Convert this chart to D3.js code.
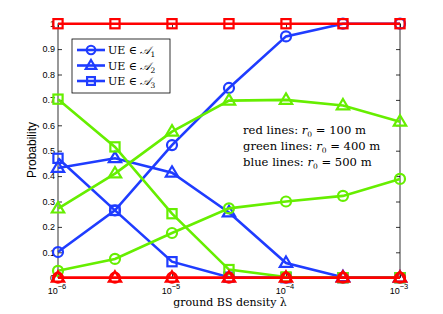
<!DOCTYPE html>
<html>
<head>
<meta charset="utf-8">
<script src="https://cdn.jsdelivr.net/npm/d3@7"></script>
<style>
  body { margin: 0; background: #fff; }
  svg { display: block; }
</style>
</head>
<body>
<div id="chart"></div>
<script>
// donnees
const density = [1e-6, 3.16e-6, 1e-5, 3.16e-5, 1e-4, 3.16e-4, 1e-3];
const yTicks = [0, 0.1, 0.2, 0.3, 0.4, 0.5, 0.6, 0.7, 0.8, 0.9, 1];
const xTicks = [1e-6, 1e-5, 1e-4, 1e-3];

const red_A1 = [0, 0, 0, 0, 0, 0, 0];
const red_A2 = [0, 0, 0, 0, 0, 0, 0];
const red_A3 = [1, 1, 1, 1, 1, 1, 1];
const green_A1 = [0.027, 0.074, 0.176, 0.273, 0.300, 0.322, 0.389];
const green_A2 = [0.272, 0.410, 0.575, 0.697, 0.700, 0.678, 0.614];
const green_A3 = [0.703, 0.515, 0.252, 0.032, 0.003, 0, 0];
const blue_A1 = [0.101, 0.265, 0.522, 0.747, 0.950, 1.0, 1.0];
const blue_A2 = [0.432, 0.470, 0.413, 0.257, 0.058, 0.002, 0];
const blue_A3 = [0.470, 0.265, 0.063, 0.002, 0, 0, 0];

const legendLabels = ["1", "2", "3"];
const notes = [["red lines: ", "100"], ["green lines: ", "400"], ["blue lines: ", "500"]];

const colors = {blue: "#1f3cff", green: "#66ee00", red: "#ff0000"};

const W = 443, H = 314;
const margin = {top: 23.7, right: 43, bottom: 36.3, left: 58};
const width = W - margin.left - margin.right,
      height = H - margin.top - margin.bottom;

const svg = d3.select("#chart").append("svg")
    .attr("width", W).attr("height", H);
const g = svg.append("g")
    .attr("transform", `translate(${margin.left},${margin.top})`);

const x = d3.scaleLog().domain([1e-6, 1e-3]).range([0, width]);
const y = d3.scaleLinear().domain([0, 1]).range([height, 0]);

// cadre et graduations (vers l'interieur, facon matlab)
const tickFont = "'Liberation Sans', Arial, sans-serif";
g.append("rect").attr("width", width).attr("height", height)
    .attr("fill", "none").attr("stroke", "#000").attr("stroke-width", 0.8);

const yLeft = g.append("g").call(d3.axisLeft(y).tickValues(yTicks).tickSizeInner(-4).tickSizeOuter(0).tickPadding(3)
    .tickFormat(d => d === 0 || d === 1 ? d3.format("d")(d) : d3.format(".1f")(d)));
const yRight = g.append("g").attr("transform", `translate(${width},0)`)
    .call(d3.axisRight(y).tickValues(yTicks).tickSizeInner(-4).tickSizeOuter(0).tickFormat(""));
const xBottom = g.append("g").attr("transform", `translate(0,${height})`)
    .call(d3.axisBottom(x).tickValues(xTicks).tickSizeInner(-4).tickSizeOuter(0).tickFormat(""));
const xTop = g.append("g")
    .call(d3.axisTop(x).tickValues(xTicks).tickSizeInner(-4).tickSizeOuter(0).tickFormat(""));
[yLeft, yRight, xBottom, xTop].forEach(a => {
  a.select(".domain").remove();
  a.selectAll("line").attr("stroke", "#000").attr("stroke-width", 0.8);
});
yLeft.selectAll("text").style("font-family", tickFont).style("font-size", "9px").attr("fill", "#000");

// etiquettes 10^n
const xl = g.append("g").attr("transform", `translate(0,${height})`);
xTicks.forEach(t => {
  const txt = xl.append("text")
      .attr("x", x(t) - 1).attr("y", 16)
      .attr("text-anchor", "middle")
      .style("font-family", tickFont).style("font-size", "9px");
  txt.append("tspan").text("10");
  txt.append("tspan").attr("dy", -5).style("font-size", "7.5px").text("\u2212" + (-Math.log10(t)));
});

// courbes
const series = [
  {c: "blue", v: blue_A1, m: "circle"},
  {c: "blue", v: blue_A2, m: "triangle"},
  {c: "blue", v: blue_A3, m: "square"},
  {c: "green", v: green_A1, m: "circle"},
  {c: "green", v: green_A2, m: "triangle"},
  {c: "green", v: green_A3, m: "square"},
  {c: "red", v: red_A1, m: "circle"},
  {c: "red", v: red_A2, m: "triangle"},
  {c: "red", v: red_A3, m: "square"}
];

const line = d3.line().x((d, i) => x(density[i])).y(d => y(d));

function marker(sel, type, color, px, py, k = 1) {
  if (type === "circle") {
    sel.append("circle").attr("cx", px).attr("cy", py).attr("r", 5 * k)
      .attr("fill", "none").attr("stroke", color).attr("stroke-width", 2.2);
  } else if (type === "triangle") {
    const s = 6.5 * k;
    sel.append("path")
      .attr("d", `M${px},${py - s}L${px + s * 0.95},${py + s * 0.6}L${px - s * 0.95},${py + s * 0.6}Z`)
      .attr("fill", "none").attr("stroke", color).attr("stroke-width", 2.2).attr("stroke-linejoin", "miter");
  } else {
    const s = 4.6 * k;
    sel.append("rect").attr("x", px - s).attr("y", py - s).attr("width", 2 * s).attr("height", 2 * s)
      .attr("fill", "none").attr("stroke", color).attr("stroke-width", 2.2);
  }
}

series.forEach(s => {
  const col = colors[s.c];
  const sg = g.append("g");
  sg.append("path").datum(s.v).attr("d", line)
    .attr("fill", "none").attr("stroke", col).attr("stroke-width", 2.6);
  s.v.forEach((v, i) => marker(sg, s.m, col, x(density[i]), y(v)));
});

// legende
const serif = "'DejaVu Serif', 'Liberation Serif', serif";
const lg = svg.append("g").attr("transform", "translate(72,39)");
lg.append("rect").attr("width", 98).attr("height", 54)
  .attr("fill", "#fff").attr("stroke", "#000").attr("stroke-width", 0.8);
["circle", "triangle", "square"].forEach((m, i) => {
  const ly = 11 + i * 15.5;
  lg.append("line").attr("x1", 5).attr("x2", 33).attr("y1", ly).attr("y2", ly)
    .attr("stroke", colors.blue).attr("stroke-width", 2.6);
  marker(lg, m, colors.blue, 19, ly, 0.85);
  const t = lg.append("text").attr("x", 36).attr("y", ly + 4)
    .style("font-family", serif).style("font-size", "11px");
  t.append("tspan").text("UE \u2208 ");
  t.append("tspan").style("font-style", "italic").text("\ud835\udc9c");
  t.append("tspan").attr("dy", 3).style("font-size", "7.5px").text(legendLabels[i]);
});

// annotations
notes.forEach((n, i) => {
  const t = svg.append("text").attr("x", 243).attr("y", 134 + i * 16)
    .style("font-family", serif).style("font-size", "11.6px");
  t.append("tspan").text(n[0]);
  t.append("tspan").style("font-style", "italic").text("r");
  t.append("tspan").attr("dy", 3).style("font-size", "7.5px").text("0");
  t.append("tspan").attr("dy", -3).text(" = " + n[1] + " m");
});

// titres des axes
svg.append("text").attr("x", 230).attr("y", 306).attr("text-anchor", "middle")
  .style("font-family", serif).style("font-size", "11px").text("ground BS density \u03bb");
svg.append("text").attr("transform", "translate(36,150) rotate(-90)").attr("text-anchor", "middle")
  .style("font-family", tickFont).style("font-size", "12px").text("Probability");
</script>
</body>
</html>
